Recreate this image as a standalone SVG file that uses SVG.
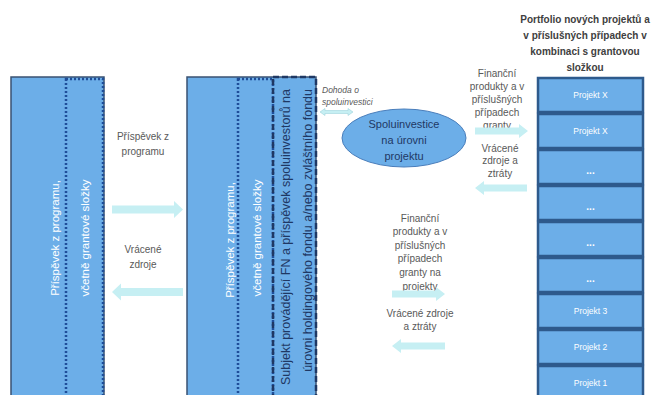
<svg xmlns="http://www.w3.org/2000/svg" width="654" height="395" viewBox="0 0 654 395">
<defs>
<style>
.box{fill:#6caee8;stroke:#3a5272;stroke-width:1.5}
.dot{fill:none;stroke:#1f4e99;stroke-width:2.5;stroke-dasharray:2 2}
.dash{fill:none;stroke:#1f3864;stroke-width:2.5;stroke-dasharray:6 3}
.arr{fill:#c6eff3}
.lbl{font-family:"Liberation Sans",Arial,sans-serif;font-size:10px;fill:#595959;text-anchor:middle}
.rot{font-family:"Liberation Sans",Arial,sans-serif;font-size:11.5px;fill:#ffffff;text-anchor:middle}
.sub{font-family:"Liberation Sans",Arial,sans-serif;font-size:12.5px;fill:#1f3864;text-anchor:end}
.ttl{font-family:"Liberation Sans",Arial,sans-serif;font-size:10px;font-weight:bold;fill:#404040;text-anchor:middle}
.pb{fill:#6caee8;stroke:#2e5a8c;stroke-width:2.5}
.pt{font-family:"Liberation Sans",Arial,sans-serif;font-size:8.5px;fill:#ffffff;text-anchor:middle}
.pd{font-family:"Liberation Sans",Arial,sans-serif;font-size:10px;font-weight:bold;fill:#ffffff;text-anchor:middle}
</style>
</defs>
<rect width="654" height="395" fill="#ffffff"/>

<g id="left-box">
<rect class="box" x="11" y="77" width="93" height="330"/>
<rect class="dot" x="66" y="79" width="37" height="330"/>
<text class="rot" transform="translate(59,238) rotate(-90)">Příspěvek z programu,</text>
<text class="rot" transform="translate(89,238) rotate(-90)">včetně grantové složky</text>
</g>

<g id="middle-box">
<rect class="box" x="187" y="77" width="129" height="330"/>
<rect class="dot" x="238" y="79" width="35" height="330"/>
<rect class="dash" x="273" y="77" width="43" height="330"/>
<text class="rot" transform="translate(234,240) rotate(-90)">Příspěvek z programu,</text>
<text class="rot" transform="translate(261,238) rotate(-90)">včetně grantové složky</text>
<text class="sub" transform="translate(290,89) rotate(-90)">Subjekt provádějící FN a příspěvek spoluinvestorů na</text>
<text class="sub" transform="translate(312,89) rotate(-90)">úrovni holdingového fondu a/nebo zvláštního fondu</text>
</g>

<g id="coinvest">
<ellipse cx="404" cy="138" rx="62" ry="29" fill="#6caee8" stroke="#4a7ebb" stroke-width="1"/>
<text font-family="Liberation Sans,Arial,sans-serif" font-size="11" fill="#1f3864" text-anchor="middle"><tspan x="404" y="128">Spoluinvestice</tspan><tspan x="404" y="144">na úrovni</tspan><tspan x="404" y="160">projektu</tspan></text>
</g>

<g id="portfolio">
<text class="ttl"><tspan x="585" y="22.5">Portfolio nových projektů a</tspan><tspan x="585" y="38.5">v příslušných případech v</tspan><tspan x="585" y="54.5">kombinaci s grantovou</tspan><tspan x="585" y="70.5">složkou</tspan></text>
<g id="p1"><rect class="pb" x="538" y="78" width="105" height="34"/><text class="pt" x="590.5" y="98">Projekt X</text></g>
<g id="p2"><rect class="pb" x="538" y="114" width="105" height="34"/><text class="pt" x="590.5" y="134">Projekt X</text></g>
<g id="p3"><rect class="pb" x="538" y="150" width="105" height="34"/><text class="pd" x="590.5" y="174">...</text></g>
<g id="p4"><rect class="pb" x="538" y="186" width="105" height="34"/><text class="pd" x="590.5" y="210">...</text></g>
<g id="p5"><rect class="pb" x="538" y="222" width="105" height="34"/><text class="pd" x="590.5" y="246">...</text></g>
<g id="p6"><rect class="pb" x="538" y="258" width="105" height="34"/><text class="pd" x="590.5" y="282">...</text></g>
<g id="p7"><rect class="pb" x="538" y="294" width="105" height="34"/><text class="pt" x="590.5" y="314">Projekt 3</text></g>
<g id="p8"><rect class="pb" x="538" y="330" width="105" height="34"/><text class="pt" x="590.5" y="350">Projekt 2</text></g>
<g id="p9"><rect class="pb" x="538" y="366" width="105" height="40"/><text class="pt" x="590.5" y="386">Projekt 1</text></g>
</g>

<g id="labels">
<text class="lbl"><tspan x="143" y="140">Příspěvek z</tspan><tspan x="143" y="155">programu</tspan></text>
<text class="lbl"><tspan x="143" y="253">Vrácené</tspan><tspan x="143" y="268">zdroje</tspan></text>
<text font-family="Liberation Sans,Arial,sans-serif" font-size="8.5" font-style="italic" fill="#595959"><tspan x="322" y="93">Dohoda o</tspan><tspan x="322" y="105">spoluinvestici</tspan></text>
<text class="lbl"><tspan x="497" y="76.5">Finanční</tspan><tspan x="497" y="89.5">produkty a v</tspan><tspan x="497" y="102.5">příslušných</tspan><tspan x="497" y="115.5">případech</tspan><tspan x="497" y="128.5">granty</tspan></text>
<text class="lbl"><tspan x="500" y="151.5">Vrácené</tspan><tspan x="500" y="164">zdroje a</tspan><tspan x="500" y="177">ztráty</tspan></text>
<text class="lbl"><tspan x="420" y="221.5">Finanční</tspan><tspan x="420" y="235">produkty a v</tspan><tspan x="420" y="248.5">příslušných</tspan><tspan x="420" y="262">případech</tspan><tspan x="420" y="275.5">granty na</tspan><tspan x="420" y="290">projekty</tspan></text>
<text class="lbl"><tspan x="420" y="316.5">Vrácené zdroje</tspan><tspan x="420" y="330">a ztráty</tspan></text>
</g>

<g id="connectors">
<path class="arr" d="M112,205.5 H174 V201 L183,209.5 L174,218 V213.5 H112 Z"/>
<path class="arr" d="M183,288 H121 V283.5 L112,292 L121,300.5 V296 H183 Z"/>
<path class="arr" d="M475,127.5 H519 V124 L528,131 L519,138 V134.5 H475 Z"/>
<path class="arr" d="M527,184.5 H484 V181 L475,188 L484,195 V191.5 H527 Z"/>
<path class="arr" d="M392,290.5 H436 V287 L445,294 L436,301 V297.5 H392 Z"/>
<path class="arr" d="M445,342.5 H401 V339 L392,346 L401,353 V349.5 H445 Z"/>
<path d="M320,112 L325,108.5 V110.5 H348 V108.5 L353,112 L348,115.5 V113.5 H325 V115.5 Z" fill="#c6eff3" stroke="#9fd3dc" stroke-width="0.6"/>
</g>
</svg>
